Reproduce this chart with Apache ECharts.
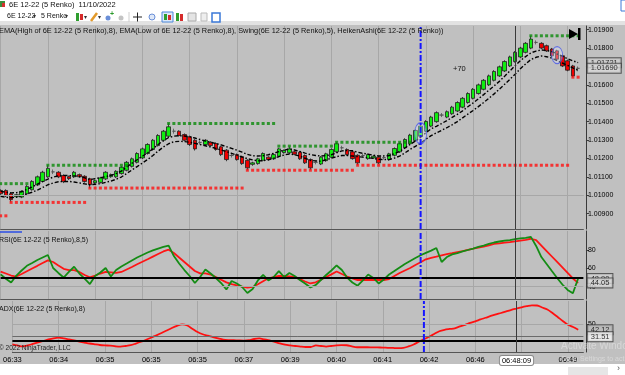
<!DOCTYPE html>
<html>
<head>
<meta charset="utf-8">
<title>6E 12-22 (5 Renko)</title>
<script src="https://cdn.jsdelivr.net/npm/echarts@6/dist/echarts.min.js"></script>
<style>
html, body { margin: 0; padding: 0; background: #ffffff; }
#chart { width: 625px; height: 375px; }
</style>
</head>
<body>
<div id="chart"></div>
<script>
// ---- data (bars 0..110, bar 111 is the empty slot before the scale)
var barCount = 112;
var labelBars = [0, 9, 18, 27, 36, 45, 54, 63, 72, 81, 90, 98, 108];
var timeLabels = ['06:33', '06:34', '06:35', '06:35', '06:35', '06:37', '06:39', '06:40', '06:41', '06:42', '06:46', '06:48:09', '06:49'];
var crossBar = 98;
var blueLineBar = 80;

// Heiken Ashi bars
var haOpen = [
  1.01026, 1.01026, 1.01008, 1.00992, 1.00990, 1.01008, 1.01030, 1.01056, 1.01075, 1.01100,
  1.01127, 1.01125, 1.01107, 1.01101, 1.01100, 1.01112, 1.01103, 1.01089, 1.01068, 1.01070,
  1.01089, 1.01101, 1.01100, 1.01118, 1.01136, 1.01157, 1.01179, 1.01203, 1.01227, 1.01249,
  1.01270, 1.01299, 1.01321, 1.01348, 1.01348, 1.01330, 1.01318, 1.01299, 1.01287, 1.01276,
  1.01288, 1.01281, 1.01263, 1.01245, 1.01216, 1.01221, 1.01209, 1.01190, 1.01168, 1.01172,
  1.01190, 1.01207, 1.01198, 1.01212, 1.01232, 1.01231, 1.01236, 1.01234, 1.01216, 1.01194,
  1.01179, 1.01170, 1.01188, 1.01207, 1.01236, 1.01258, 1.01249, 1.01236, 1.01217, 1.01216,
  1.01199, 1.01203, 1.01207, 1.01205, 1.01194, 1.01217, 1.01236, 1.01258, 1.01280, 1.01298,
  1.01321, 1.01348, 1.01376, 1.01400, 1.01436, 1.01425, 1.01443, 1.01458, 1.01479, 1.01504,
  1.01527, 1.01553, 1.01576, 1.01600, 1.01625, 1.01649, 1.01676, 1.01703, 1.01727, 1.01752,
  1.01777, 1.01800, 1.01831, 1.01826, 1.01813, 1.01795, 1.01785, 1.01758, 1.01731, 1.01703, 1.01690
];
var haClose = [
  1.01008, 1.00997, 1.00976, 1.01003, 1.01021, 1.01048, 1.01075, 1.01100, 1.01125, 1.01146,
  1.01127, 1.01100, 1.01074, 1.01090, 1.01125, 1.01100, 1.01075, 1.01057, 1.01079, 1.01094,
  1.01125, 1.01112, 1.01130, 1.01152, 1.01179, 1.01198, 1.01227, 1.01252, 1.01276, 1.01299,
  1.01325, 1.01348, 1.01372, 1.01348, 1.01325, 1.01299, 1.01276, 1.01252, 1.01287, 1.01299,
  1.01270, 1.01249, 1.01221, 1.01194, 1.01216, 1.01194, 1.01172, 1.01149, 1.01176, 1.01198,
  1.01227, 1.01194, 1.01221, 1.01252, 1.01243, 1.01252, 1.01223, 1.01198, 1.01176, 1.01149,
  1.01179, 1.01207, 1.01225, 1.01249, 1.01280, 1.01258, 1.01221, 1.01199, 1.01176, 1.01216,
  1.01221, 1.01212, 1.01176, 1.01205, 1.01225, 1.01254, 1.01280, 1.01303, 1.01327, 1.01352,
  1.01376, 1.01401, 1.01425, 1.01449, 1.01436, 1.01454, 1.01479, 1.01504, 1.01527, 1.01553,
  1.01576, 1.01600, 1.01625, 1.01649, 1.01673, 1.01698, 1.01727, 1.01752, 1.01777, 1.01800,
  1.01826, 1.01849, 1.01831, 1.01800, 1.01785, 1.01758, 1.01740, 1.01703, 1.01680, 1.01649, 1.01690
];
var haLow = [
  1.01002, 1.00990, 1.00961, 1.00985, 1.00984, 1.01003, 1.01025, 1.01050, 1.01070, 1.01095,
  1.01115, 1.01093, 1.01066, 1.01083, 1.01094, 1.01094, 1.01068, 1.01039, 1.01062, 1.01064,
  1.01083, 1.01095, 1.01094, 1.01112, 1.01130, 1.01151, 1.01173, 1.01197, 1.01221, 1.01243,
  1.01265, 1.01293, 1.01316, 1.01335, 1.01319, 1.01293, 1.01268, 1.01243, 1.01276, 1.01270,
  1.01264, 1.01242, 1.01213, 1.01185, 1.01205, 1.01188, 1.01165, 1.01136, 1.01160, 1.01166,
  1.01184, 1.01188, 1.01192, 1.01206, 1.01226, 1.01225, 1.01217, 1.01192, 1.01170, 1.01138,
  1.01168, 1.01164, 1.01182, 1.01201, 1.01230, 1.01247, 1.01215, 1.01193, 1.01163, 1.01205,
  1.01193, 1.01197, 1.01170, 1.01194, 1.01188, 1.01211, 1.01230, 1.01252, 1.01274, 1.01292,
  1.01315, 1.01342, 1.01370, 1.01394, 1.01425, 1.01419, 1.01437, 1.01452, 1.01473, 1.01498,
  1.01521, 1.01547, 1.01570, 1.01594, 1.01619, 1.01643, 1.01670, 1.01697, 1.01721, 1.01746,
  1.01771, 1.01794, 1.01820, 1.01794, 1.01779, 1.01752, 1.01734, 1.01697, 1.01674, 1.01642, 1.01674
];
var haHigh = [
  1.01032, 1.01032, 1.01014, 1.01009, 1.01027, 1.01055, 1.01082, 1.01107, 1.01133, 1.01163,
  1.01140, 1.01131, 1.01113, 1.01107, 1.01132, 1.01118, 1.01109, 1.01095, 1.01085, 1.01100,
  1.01131, 1.01118, 1.01136, 1.01158, 1.01186, 1.01205, 1.01234, 1.01259, 1.01283, 1.01306,
  1.01332, 1.01355, 1.01391, 1.01362, 1.01353, 1.01336, 1.01324, 1.01305, 1.01298, 1.01305,
  1.01294, 1.01287, 1.01269, 1.01251, 1.01227, 1.01227, 1.01215, 1.01196, 1.01182, 1.01204,
  1.01233, 1.01212, 1.01227, 1.01258, 1.01249, 1.01265, 1.01242, 1.01240, 1.01222, 1.01200,
  1.01190, 1.01213, 1.01231, 1.01255, 1.01288, 1.01269, 1.01255, 1.01242, 1.01223, 1.01227,
  1.01227, 1.01218, 1.01213, 1.01216, 1.01231, 1.01260, 1.01287, 1.01310, 1.01334, 1.01359,
  1.01383, 1.01408, 1.01432, 1.01456, 1.01447, 1.01461, 1.01486, 1.01511, 1.01534, 1.01560,
  1.01583, 1.01607, 1.01632, 1.01656, 1.01680, 1.01705, 1.01734, 1.01759, 1.01784, 1.01807,
  1.01833, 1.01867, 1.01842, 1.01832, 1.01819, 1.01801, 1.01791, 1.01764, 1.01737, 1.01709, 1.01700
];

// EMA(High,8) and EMA(Low,8)
var emaHigh = [
  1.01021, 1.01016, 1.01013, 1.01014, 1.01019, 1.01032, 1.01045, 1.01060, 1.01074, 1.01088,
  1.01098, 1.01106, 1.01108, 1.01107, 1.01105, 1.01103, 1.01095, 1.01085, 1.01090, 1.01095,
  1.01101, 1.01108, 1.01118, 1.01131, 1.01153, 1.01174, 1.01193, 1.01212, 1.01231, 1.01252,
  1.01276, 1.01296, 1.01314, 1.01321, 1.01324, 1.01322, 1.01318, 1.01311, 1.01303, 1.01295,
  1.01288, 1.01281, 1.01274, 1.01264, 1.01255, 1.01245, 1.01234, 1.01222, 1.01215, 1.01213,
  1.01215, 1.01220, 1.01228, 1.01237, 1.01245, 1.01252, 1.01246, 1.01238, 1.01229, 1.01221,
  1.01216, 1.01213, 1.01216, 1.01220, 1.01231, 1.01241, 1.01243, 1.01242, 1.01234, 1.01228,
  1.01223, 1.01218, 1.01213, 1.01214, 1.01215, 1.01226, 1.01238, 1.01257, 1.01276, 1.01295,
  1.01315, 1.01339, 1.01361, 1.01375, 1.01390, 1.01406, 1.01423, 1.01440, 1.01459, 1.01481,
  1.01502, 1.01524, 1.01547, 1.01571, 1.01595, 1.01619, 1.01647, 1.01676, 1.01704, 1.01732,
  1.01754, 1.01774, 1.01784, 1.01790, 1.01787, 1.01781, 1.01768, 1.01756, 1.01742, 1.01731, 1.01721
];
var emaLow = [
  1.00994, 1.00989, 1.00986, 1.00990, 1.00998, 1.01007, 1.01016, 1.01028, 1.01042, 1.01057,
  1.01067, 1.01073, 1.01075, 1.01075, 1.01072, 1.01067, 1.01062, 1.01057, 1.01060, 1.01063,
  1.01070, 1.01077, 1.01087, 1.01099, 1.01118, 1.01137, 1.01156, 1.01175, 1.01194, 1.01216,
  1.01240, 1.01262, 1.01280, 1.01291, 1.01293, 1.01292, 1.01288, 1.01282, 1.01276, 1.01269,
  1.01262, 1.01255, 1.01246, 1.01237, 1.01228, 1.01218, 1.01208, 1.01199, 1.01192, 1.01187,
  1.01188, 1.01193, 1.01201, 1.01210, 1.01219, 1.01224, 1.01220, 1.01213, 1.01201, 1.01189,
  1.01187, 1.01185, 1.01193, 1.01201, 1.01210, 1.01216, 1.01216, 1.01213, 1.01210, 1.01207,
  1.01204, 1.01200, 1.01195, 1.01194, 1.01194, 1.01202, 1.01213, 1.01230, 1.01249, 1.01266,
  1.01283, 1.01305, 1.01324, 1.01339, 1.01353, 1.01367, 1.01383, 1.01400, 1.01421, 1.01441,
  1.01461, 1.01482, 1.01504, 1.01527, 1.01551, 1.01577, 1.01603, 1.01630, 1.01658, 1.01688,
  1.01714, 1.01738, 1.01750, 1.01757, 1.01753, 1.01746, 1.01732, 1.01719, 1.01706, 1.01692, 1.01679
];

// Swing(5) levels: [first bar, last bar, price]
var swingHighLevels = [[0, 5, 1.01063], [9, 24, 1.01163], [32, 52, 1.01390], [53, 63, 1.01267], [64, 78, 1.01288], [101, 110, 1.01867]];
var swingLowLevels = [[0, 1, 1.00888], [2, 16, 1.00961], [17, 46, 1.01039], [47, 67, 1.01136], [68, 108, 1.01163], [109, 110, 1.01642]];

// RSI(8,5) and its average
var rsi = [
  53.4, 48.6, 44.4, 52.1, 57.6, 62.7, 65.8, 69.1, 71.8, 74.5,
  60.3, 54.9, 49.9, 56.0, 61.7, 54.3, 48.6, 42.8, 51.6, 55.4,
  60.3, 51.0, 58.1, 62.0, 65.2, 68.5, 71.8, 74.5, 77.3, 79.5,
  81.6, 83.3, 84.7, 73.4, 65.2, 58.1, 51.6, 43.9, 50.5, 58.7,
  54.3, 49.4, 43.9, 36.8, 46.1, 43.4, 39.6, 33.0, 37.4, 46.7,
  52.7, 46.7, 50.5, 57.0, 50.5, 54.9, 51.6, 47.2, 43.4, 39.0,
  41.7, 47.2, 52.7, 57.6, 63.1, 58.1, 49.9, 44.5, 41.0, 46.7,
  53.2, 49.4, 43.4, 47.8, 53.2, 57.0, 60.9, 64.7, 68.0, 71.3,
  74.2, 76.9, 79.3, 82.2, 66.9, 72.3, 75.2, 76.7, 78.4, 80.0,
  81.6, 83.3, 84.9, 86.6, 88.2, 89.3, 90.2, 90.9, 91.8, 92.6,
  93.3, 94.4, 84.4, 72.3, 64.7, 57.0, 49.4, 42.3, 36.3, 32.7, 48.9
];
var rsiAvg = [
  56.3, 54.3, 52.1, 51.0, 53.8, 56.8, 59.8, 62.7, 65.8, 68.7,
  66.9, 63.1, 59.5, 58.1, 58.1, 56.0, 52.7, 50.2, 52.1, 54.3,
  56.0, 55.6, 55.1, 56.0, 58.7, 61.4, 64.4, 67.1, 69.9, 72.8,
  75.6, 78.4, 80.3, 76.7, 71.8, 66.9, 62.0, 57.0, 54.5, 54.5,
  53.2, 50.5, 47.5, 44.6, 42.6, 41.4, 40.1, 38.8, 39.6, 42.5,
  45.8, 49.1, 50.3, 51.6, 51.6, 51.1, 50.5, 48.1, 45.6, 43.4,
  44.7, 47.5, 50.5, 53.4, 56.5, 53.8, 51.0, 48.9, 47.2, 47.2,
  47.2, 47.2, 47.2, 47.2, 48.3, 51.6, 54.9, 57.6, 60.3, 63.6,
  66.6, 69.8, 71.3, 72.7, 74.2, 75.4, 76.5, 77.7, 78.9, 80.2,
  81.4, 82.7, 83.8, 85.1, 86.6, 87.2, 88.0, 88.7, 89.5, 90.3,
  91.1, 92.3, 90.9, 84.9, 78.9, 72.9, 66.9, 60.9, 54.9, 48.9, 44.05
];

// ADX(8)
var adx = [
  20.0, 18.2, 16.7, 18.2, 20.5, 22.7, 25.0, 27.3, 29.1, 30.0,
  28.8, 27.3, 25.8, 24.2, 22.7, 21.2, 20.0, 18.9, 18.3, 17.9,
  17.0, 16.5, 17.4, 18.6, 21.1, 23.8, 26.8, 30.3, 33.6, 37.1,
  40.9, 44.7, 48.0, 50.2, 48.5, 43.5, 38.6, 35.2, 33.0, 30.8,
  28.8, 27.1, 26.4, 26.1, 25.8, 25.6, 26.1, 28.0, 28.8, 27.3,
  25.8, 23.5, 21.2, 19.4, 18.3, 17.4, 16.5, 15.9, 15.9, 18.2,
  17.4, 16.5, 17.4, 18.2, 18.6, 18.5, 16.7, 15.5, 15.5, 15.5,
  15.3, 15.2, 15.0, 14.7, 14.4, 14.1, 14.4, 16.7, 19.7, 23.8,
  27.6, 31.4, 35.6, 39.8, 42.0, 43.2, 44.2, 47.0, 49.5, 52.3,
  54.8, 57.6, 60.2, 62.9, 65.3, 67.4, 69.8, 72.3, 74.2, 76.1,
  77.7, 79.1, 78.8, 75.8, 72.7, 67.4, 61.4, 55.3, 49.5, 46.2, 42.12
];

// scales and reference levels
var priceRange = [1.008164, 1.019202];
var rsiRange = [26.45, 100.77];
var adxRange = [8.3, 85.6];
var priceTicks = [1.009, 1.010, 1.011, 1.012, 1.013, 1.014, 1.015, 1.016, 1.017, 1.018, 1.019];
var priceGrid = [1.009, 1.012, 1.015, 1.018];
var rsiTicks = [40, 60, 80];
var adxTicks = [50];
var lastPrice = 1.01690;
var crossAdx = 31.51;

// drawing objects: circled bars
var circledBars = [80, 106];
var circledPrices = [1.01337, 1.01762];

var FONT = '"Liberation Sans", Arial, sans-serif';
var lastBar = haOpen.length - 1;

var categories = [];
for (var i = 0; i < barCount; i++) categories.push(String(i));

function labelFor(idx) {
  var k = labelBars.indexOf(idx);
  return k < 0 ? '' : timeLabels[k];
}

function dots(levels) {
  var out = [];
  levels.forEach(function (s) {
    for (var j = s[0]; j <= s[1]; j++) out.push([j, s[2]]);
  });
  return out;
}

var candles = [];
for (var i = 0; i < haOpen.length; i++) {
  var v = [haOpen[i], haClose[i], haLow[i], haHigh[i]];
  if (haOpen[i] === haClose[i]) {
    candles.push({value: v, itemStyle: {color: '#505050', color0: '#505050', borderColor: '#505050', borderColor0: '#505050'}});
  } else {
    candles.push(v);
  }
}

function hLine(v, color, width) {
  return {yAxis: v, lineStyle: {color: color, width: width, type: 'solid'}, label: {show: false}};
}
function vLine(idx, color, width) {
  return {xAxis: idx, lineStyle: {color: color, width: width, type: 'solid'}, label: {show: false}};
}
function marks(list) {
  return {silent: true, symbol: ['none', 'none'], animation: false, data: list};
}

// blue dash-dot vertical marker, one per panel
function blueLine(gi, range) {
  return {
    type: 'line', xAxisIndex: gi, yAxisIndex: gi, z: 7, silent: true, symbol: 'none',
    data: [[blueLineBar, range[0]], [blueLineBar, range[1]]],
    lineStyle: {color: '#1515ff', width: 2, type: [6, 2, 2, 2]}
  };
}
// value tags on the right scale
function tags(gi, list) {
  return {
    type: 'scatter', xAxisIndex: gi, yAxisIndex: gi, z: 8, silent: true, clip: false,
    symbol: 'circle', symbolSize: 1, itemStyle: {color: 'rgba(0,0,0,0)'},
    data: list.map(function (t) {
      return {
        value: [lastBar, t[0]],
        label: {show: true, position: 'right', distance: 9, formatter: t[1], backgroundColor: t[2],
          borderColor: '#3a3a3a', borderWidth: 1, padding: [1, 3, 0, 3], color: '#000', fontSize: 7.5, fontFamily: FONT}
      };
    })
  };
}

function xAxisFor(gi, showLabels) {
  return {
    type: 'category', gridIndex: gi, data: categories, boundaryGap: false,
    axisLine: {show: true, onZero: false, lineStyle: {color: '#555', width: 1}},
    axisTick: {show: false},
    axisLabel: showLabels ? {
      show: true, interval: function (idx) { return labelBars.indexOf(idx) >= 0; },
      formatter: function (val, idx) {
        return idx === crossBar ? '{c|' + labelFor(idx) + '}' : labelFor(idx);
      },
      color: '#000', fontSize: 7.5, fontFamily: FONT, margin: 4,
      rich: {c: {backgroundColor: '#ffffff', borderColor: '#8a8a8a', borderWidth: 1, borderRadius: 2,
        padding: [1, 2, 0, 2], fontSize: 7.5, fontFamily: FONT, color: '#000'}}
    } : {show: false},
    splitLine: {show: true, interval: function (idx) { return idx % 9 === 0; }, lineStyle: {color: '#a7a7a7', width: 1}}
  };
}
function yAxisFor(gi, range, ticks, fmt) {
  return {
    type: 'value', gridIndex: gi, position: 'right', offset: 2.6, min: range[0], max: range[1],
    axisLine: {show: true, lineStyle: {color: '#3a3a3a'}},
    axisTick: {show: true, length: 3, customValues: ticks, lineStyle: {color: '#3a3a3a'}},
    axisLabel: {show: true, customValues: ticks, formatter: fmt, color: '#000', fontSize: 7, fontFamily: FONT, margin: 2},
    splitLine: {show: false}
  };
}

var graphics = [
  {type: 'rect', shape: {x: 0, y: 0, width: 625, height: 25}, style: {fill: '#ffffff'}},
  {type: 'rect', shape: {x: 0, y: 21, width: 625, height: 4}, style: {fill: '#e2e2e2'}},
  {type: 'rect', shape: {x: 0, y: 364, width: 625, height: 11}, style: {fill: '#ffffff'}},
  {type: 'rect', shape: {x: 568, y: 367, width: 40, height: 8}, style: {fill: '#e6e6e6'}},
  {type: 'text', style: {text: '›', x: 617, y: 369, fill: '#555', font: '9px ' + FONT, textVerticalAlign: 'middle'}},
  // title bar
  {type: 'rect', shape: {x: 0, y: 1, width: 5, height: 6}, style: {fill: '#3b8d3b'}},
  {type: 'rect', shape: {x: 2, y: 3, width: 3, height: 4}, style: {fill: '#d63030'}},
  {type: 'text', style: {text: '6E 12-22 (5 Renko)  11/10/2022', x: 9, y: 5, fill: '#111', font: '7.5px ' + FONT, textVerticalAlign: 'middle'}},
  {type: 'rect', shape: {x: 621, y: 0, width: 6, height: 11}, style: {fill: '#ffffff', stroke: '#3a78d8', lineWidth: 1}},
  // toolbar
  {type: 'text', style: {text: '6E 12-22', x: 7, y: 16.5, fill: '#111', font: '7px ' + FONT, textVerticalAlign: 'middle'}},
  {type: 'text', style: {text: '▾', x: 33, y: 16.5, fill: '#333', font: '6px ' + FONT, textVerticalAlign: 'middle'}},
  {type: 'text', style: {text: '5 Renko', x: 41, y: 16.5, fill: '#111', font: '7px ' + FONT, textVerticalAlign: 'middle'}},
  {type: 'text', style: {text: '▾', x: 65, y: 16.5, fill: '#333', font: '6px ' + FONT, textVerticalAlign: 'middle'}},
  {type: 'rect', shape: {x: 76, y: 13, width: 3, height: 8}, style: {fill: '#2f9e2f'}},
  {type: 'rect', shape: {x: 80, y: 14, width: 3, height: 6}, style: {fill: '#d62b2b'}},
  {type: 'text', style: {text: '▾', x: 84, y: 17, fill: '#333', font: '6px ' + FONT, textVerticalAlign: 'middle'}},
  {type: 'line', shape: {x1: 91, y1: 21, x2: 97, y2: 13}, style: {stroke: '#e39a2b', lineWidth: 2.5}},
  {type: 'text', style: {text: '▾', x: 98, y: 17, fill: '#333', font: '6px ' + FONT, textVerticalAlign: 'middle'}},
  {type: 'circle', shape: {cx: 108, cy: 18, r: 2.5}, style: {fill: '#6a8fd8'}},
  {type: 'text', style: {text: '+', x: 110, y: 14, fill: '#2a9a2a', font: 'bold 7px ' + FONT, textVerticalAlign: 'middle'}},
  {type: 'circle', shape: {cx: 121, cy: 18, r: 2.5}, style: {fill: '#c4c4c4'}},
  {type: 'line', shape: {x1: 129, y1: 12, x2: 129, y2: 22}, style: {stroke: '#cfcfcf', lineWidth: 1}},
  {type: 'line', shape: {x1: 133, y1: 17, x2: 142, y2: 17}, style: {stroke: '#222', lineWidth: 1}},
  {type: 'line', shape: {x1: 137.5, y1: 12.5, x2: 137.5, y2: 21.5}, style: {stroke: '#222', lineWidth: 1}},
  {type: 'circle', shape: {cx: 152, cy: 17, r: 3}, style: {fill: '#dfe8f7', stroke: '#6a8fd8', lineWidth: 1}},
  {type: 'rect', shape: {x: 162, y: 12, width: 11, height: 10}, style: {fill: '#dce9fa', stroke: '#4a86d8', lineWidth: 1}},
  {type: 'rect', shape: {x: 164, y: 14, width: 3, height: 6}, style: {fill: '#2f9e2f'}},
  {type: 'rect', shape: {x: 168, y: 15, width: 3, height: 5}, style: {fill: '#d62b2b'}},
  {type: 'rect', shape: {x: 176, y: 13, width: 3, height: 8}, style: {fill: '#2f9e2f'}},
  {type: 'rect', shape: {x: 180, y: 14, width: 3, height: 7}, style: {fill: '#d62b2b'}},
  {type: 'rect', shape: {x: 188, y: 13, width: 8, height: 8}, style: {fill: '#e4e4e4', stroke: '#aaa', lineWidth: 1}},
  {type: 'rect', shape: {x: 201, y: 13, width: 6, height: 8}, style: {fill: '#eeeeee', stroke: '#bbb', lineWidth: 1}},
  {type: 'rect', shape: {x: 212, y: 13, width: 8, height: 9}, style: {fill: '#ffffff', stroke: '#3a78d8', lineWidth: 1.5}},
  // panel titles
  {type: 'text', z: 10, style: {text: 'EMA(High of 6E 12-22 (5 Renko),8), EMA(Low of 6E 12-22 (5 Renko),8), Swing(6E 12-22 (5 Renko),5), HeikenAshi(6E 12-22 (5 Renko))', x: -1, y: 31, fill: '#111', font: '7.35px ' + FONT, textVerticalAlign: 'middle'}},
  {type: 'line', z: 10, shape: {x1: 0, y1: 232, x2: 22, y2: 232}, style: {stroke: '#2b4ee6', lineWidth: 1.5}},
  {type: 'text', z: 10, style: {text: 'RSI(6E 12-22 (5 Renko),8,5)', x: -1, y: 240, fill: '#111', font: '7px ' + FONT, textVerticalAlign: 'middle'}},
  {type: 'text', z: 10, style: {text: 'ADX(6E 12-22 (5 Renko),8)', x: -1, y: 309, fill: '#111', font: '7px ' + FONT, textVerticalAlign: 'middle'}},
  {type: 'text', z: 10, style: {text: '© 2022 NinjaTrader, LLC', x: -1, y: 348, fill: '#222', font: '6.5px ' + FONT, textVerticalAlign: 'middle'}},
  // note and scroll-to-end button
  {type: 'text', z: 10, style: {text: '+70', x: 453, y: 69, fill: '#111', font: '7.5px ' + FONT, textVerticalAlign: 'middle'}},
  {type: 'polygon', z: 10, shape: {points: [[569, 29], [569, 39], [578, 34]]}, style: {fill: '#000'}},
  {type: 'rect', z: 10, shape: {x: 578, y: 28, width: 2.5, height: 12}, style: {fill: '#000'}},
  // windows watermark
  {type: 'text', z: 1, style: {text: 'Activate Windows', x: 561, y: 346, fill: 'rgba(235,235,235,0.55)', font: '10px ' + FONT, textVerticalAlign: 'middle'}},
  {type: 'text', z: 1, style: {text: 'Go to Settings to activate Windows.', x: 561, y: 359, fill: 'rgba(235,235,235,0.55)', font: '7px ' + FONT, textVerticalAlign: 'middle'}}
];

var chart = echarts.init(document.getElementById('chart'));
var option = {
  animation: false,
  backgroundColor: '#c0c0c0',
  grid: [
    {left: 0.625, width: 582.75, top: 26, height: 203},
    {left: 0.625, width: 582.75, top: 231, height: 68},
    {left: 0.625, width: 582.75, top: 301, height: 51}
  ],
  xAxis: [xAxisFor(0, false), xAxisFor(1, false), xAxisFor(2, true)],
  yAxis: [
    yAxisFor(0, priceRange, priceTicks, function (v) { return v.toFixed(5); }),
    yAxisFor(1, rsiRange, rsiTicks, function (v) { return String(v); }),
    yAxisFor(2, adxRange, adxTicks, function (v) { return String(v); })
  ],
  graphic: graphics,
  series: [
    // price panel grid lines (under the bars)
    {
      type: 'line', xAxisIndex: 0, yAxisIndex: 0, data: [], z: 1, silent: true,
      markLine: marks(priceGrid.map(function (p) { return hLine(p, '#a7a7a7', 1); }).concat([
        vLine(crossBar, '#3a3a3a', 1)
      ]))
    },
    {
      type: 'candlestick', name: 'HeikenAshi', xAxisIndex: 0, yAxisIndex: 0, data: candles, barWidth: 4,
      itemStyle: {color: '#10ee10', color0: '#f00000', borderColor: '#1e1e1e', borderColor0: '#1e1e1e', borderWidth: 0.8}
    },
    {
      type: 'line', name: 'EMA Low', xAxisIndex: 0, yAxisIndex: 0, data: emaLow, symbol: 'none', z: 3,
      lineStyle: {color: '#000', width: 1.4, type: [4, 2, 1.5, 2]}
    },
    {
      type: 'line', name: 'EMA High', xAxisIndex: 0, yAxisIndex: 0, data: emaHigh, symbol: 'none', z: 3,
      lineStyle: {color: '#000', width: 1.4, type: [4, 2, 1.5, 2]}
    },
    {
      type: 'scatter', name: 'Swing High', xAxisIndex: 0, yAxisIndex: 0, data: dots(swingHighLevels),
      symbol: 'rect', symbolSize: 3, z: 4, itemStyle: {color: '#0b8a0b'}
    },
    {
      type: 'scatter', name: 'Swing Low', xAxisIndex: 0, yAxisIndex: 0, data: dots(swingLowLevels),
      symbol: 'rect', symbolSize: 3, z: 4, itemStyle: {color: '#ff1010'}
    },
    {
      type: 'scatter', name: 'Marked', xAxisIndex: 0, yAxisIndex: 0, z: 5,
      data: [
        {value: [circledBars[0], circledPrices[0]], symbolSize: [12, 21]},
        {value: [circledBars[1], circledPrices[1]], symbolSize: [11, 17]}
      ],
      symbol: 'circle', itemStyle: {color: 'rgba(225,230,255,0.45)', borderColor: '#4a5ae8', borderWidth: 1}
    },
    blueLine(0, priceRange),
    tags(0, [[emaHigh[lastBar], emaHigh[lastBar].toFixed(5), '#cfcfcf'], [lastPrice, lastPrice.toFixed(5), '#d9d9d9']]),
    // RSI panel
    {
      type: 'line', xAxisIndex: 1, yAxisIndex: 1, data: [], z: 1, silent: true,
      markLine: marks([hLine(40, '#a7a7a7', 1), hLine(50, '#000', 2), vLine(crossBar, '#3a3a3a', 1)])
    },
    {
      type: 'line', name: 'RSI Avg', xAxisIndex: 1, yAxisIndex: 1, data: rsiAvg, symbol: 'none', z: 3,
      lineStyle: {color: '#ff1515', width: 1.8}
    },
    {
      type: 'line', name: 'RSI', xAxisIndex: 1, yAxisIndex: 1, data: rsi, symbol: 'none', z: 4,
      lineStyle: {color: '#148c14', width: 1.8}
    },
    blueLine(1, rsiRange),
    tags(1, [[rsi[lastBar], rsi[lastBar].toFixed(2), '#cfcfcf'], [rsiAvg[lastBar], rsiAvg[lastBar].toFixed(2), '#d9d9d9']]),
    // ADX panel
    {
      type: 'line', xAxisIndex: 2, yAxisIndex: 2, data: [], z: 1, silent: true,
      markLine: marks([hLine(50, '#a7a7a7', 1), hLine(crossAdx, '#6a6a6a', 1), hLine(25, '#000', 2),
        vLine(crossBar, '#3a3a3a', 1)])
    },
    {
      type: 'line', name: 'ADX', xAxisIndex: 2, yAxisIndex: 2, data: adx, symbol: 'none', z: 3, smooth: 0.3,
      lineStyle: {color: '#ff1010', width: 1.8}
    },
    blueLine(2, adxRange),
    tags(2, [[adx[lastBar], adx[lastBar].toFixed(2), '#b9b9b9'], [crossAdx, crossAdx.toFixed(2), '#f4f4f4']])
  ]
};
chart.setOption(option);
</script>
</body>
</html>
